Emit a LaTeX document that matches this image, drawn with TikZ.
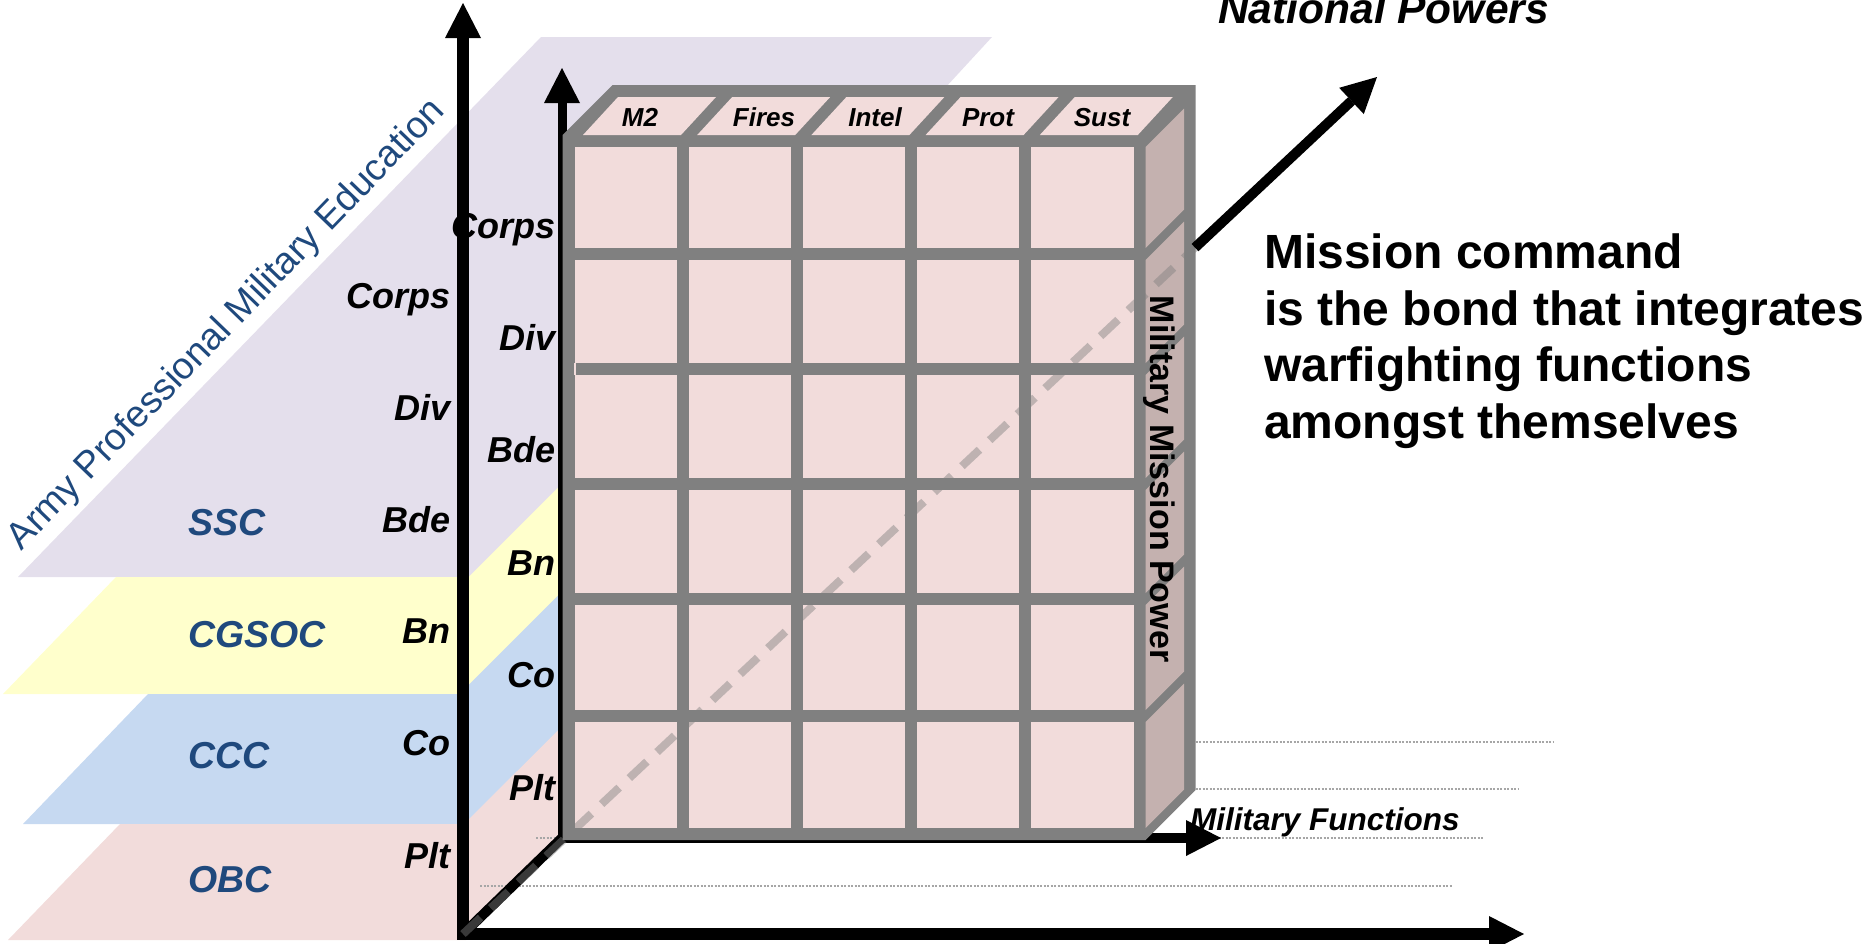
\documentclass[tikz,border=0pt]{standalone}
\usepackage{fontspec}
\setmainfont{Liberation Sans}
\usetikzlibrary{arrows.meta}
\definecolor{lav}{HTML}{E4DFEC}
\definecolor{lyel}{HTML}{FFFFCC}
\definecolor{lblue}{HTML}{C6D9F1}
\definecolor{lpink}{HTML}{F2DCDB}
\definecolor{sidepink}{HTML}{C4B1AF}
\definecolor{framegray}{HTML}{808080}
\definecolor{navy}{HTML}{1F497D}
\definecolor{dotgray}{HTML}{A6A6A6}
\begin{document}
\begin{tikzpicture}[x=1pt,y=-1pt,
  bigtip/.style={-{Triangle[length=35pt,width=36pt,line width=0pt]}},
  blackline/.style={draw=black,line join=miter},
  dotline/.style={draw=dotgray,line width=1.3pt,dash pattern=on 2pt off 1.5pt},
  depthdash/.style={draw=framegray,draw opacity=0.45,line width=8pt,dash pattern=on 24pt off 14pt},
  lvl/.style={font=\fontsize{36pt}{40pt}\selectfont\bfseries\itshape,inner sep=0pt},
  course/.style={font=\fontsize{37.5pt}{42pt}\selectfont\bfseries\itshape,inner sep=0pt,text=navy},
  head/.style={font=\fontsize{26pt}{30pt}\selectfont\bfseries\itshape,inner sep=0pt},
  bigtext/.style={font=\fontsize{48pt}{56pt}\selectfont\bfseries,inner sep=0pt,anchor=base west}]
\useasboundingbox (0,0) rectangle (1876,943);
\clip (0,0) rectangle (1876,943);

% ---------- education planes ----------
\fill[lav] (541,37) -- (992,37) -- (934,100) -- (620,100) -- (620,577) -- (18,577) -- cycle;
\fill[lyel] (3,694) -- (116,577) -- (464,577) -- (464,581.5) -- (580,465.5) -- (580,694) -- cycle;
\fill[lblue] (23,824) -- (148,694) -- (464,694) -- (464,689.5) -- (580,573.5) -- (580,824) -- cycle;
\fill[lpink] (8,940) -- (120,824) -- (464,824) -- (580,708.5) -- (580,821) -- (466,935) -- (466,940) -- cycle;

% ---------- faint floor lines ----------
\draw[dotline] (1150,742) -- (1553,742);
\draw[dotline] (1150,789) -- (1519,789);
\draw[dotline] (536,838) -- (1483,838);
\draw[dotline] (480,886) -- (1453,886);

% ---------- axes ----------
\coordinate (O) at (463,934);
\coordinate (Vtop) at (463,3);
\coordinate (Hend) at (1524,934);
\coordinate (S0) at (562,838);
\coordinate (Stop) at (562,68);
\coordinate (MF) at (1221,838);
\coordinate (P) at (1195,247.6);
\coordinate (T) at (1377,77);

\draw[blackline,line width=11.5pt,{Triangle[length=35pt,width=36pt,line width=0pt]}-{Triangle[length=35pt,width=36pt,line width=0pt]}] (Hend) -- (O) -- (Vtop);
\draw[blackline,line width=10pt] (O) -- (S0);
\draw[blackline,line width=9pt,bigtip] (S0) -- (Stop);
\draw[blackline,line width=10pt,bigtip] (S0) -- (MF);

% ---------- cube ----------
\fill[framegray] (562.5,840) -- (562.5,135) -- (612.5,85) -- (1195.5,85) -- (1195.5,790) -- (1145.5,840) -- cycle;
\foreach \i in {0,...,4} {
  \foreach \t/\b in {147/248,260/363,375/478,490/593,605/710,722/828} {
    \fill[lpink] ({574.5+114.2*\i},\t) rectangle ({676.7+114.2*\i},\b);
  }
  \fill[lpink] ({583+114.2*\i},135) -- ({681+114.2*\i},135) -- ({716+114.2*\i},97) -- ({618+114.2*\i},97) -- cycle;
}
\fill[lpink] (573.5,363) rectangle (576,375);
\foreach \t/\b in {147/248,260/363,375/478,490/593,605/710,722/828} {
  \fill[sidepink] (1145.5,\t) -- (1184,{\t-38.5}) -- (1184,{\b-38.5}) -- (1145.5,\b) -- cycle;
}

% ---------- depth axis ----------
\draw[depthdash] (O) -- (P);
\draw[blackline,line width=10pt,bigtip] (P) -- (T);

% ---------- column headers ----------
\node[head,anchor=base] (hm2) at (640,126) {M2};
\node[head,anchor=base] (hfires) at (764,126) {Fires};
\node[head,anchor=base] (hintel) at (875,126) {Intel};
\node[head,anchor=base] (hprot) at (988,126) {Prot};
\node[head,anchor=base] (hsust) at (1102,126) {Sust};

% ---------- echelon labels ----------
\node[lvl,anchor=base east] (lcorps) at (451,308) {Corps};
\node[lvl,anchor=base east] (ldiv) at (451,420) {Div};
\node[lvl,anchor=base east] (lbde) at (451,532) {Bde};
\node[lvl,anchor=base east] (lbn) at (451,643) {Bn};
\node[lvl,anchor=base east] (lco) at (451,755) {Co};
\node[lvl,anchor=base east] (lplt) at (451,868) {Plt};

\node[lvl,anchor=base east] (scorps) at (556,238) {Corps};
\node[lvl,anchor=base east] (sdiv) at (556,350) {Div};
\node[lvl,anchor=base east] (sbde) at (556,462) {Bde};
\node[lvl,anchor=base east] (sbn) at (556,575) {Bn};
\node[lvl,anchor=base east] (sco) at (556,687) {Co};
\node[lvl,anchor=base east] (splt) at (556,800) {Plt};

% ---------- courses ----------
\node[course,anchor=base west] (ssc) at (188,535) {SSC};
\node[course,anchor=base west] (cgsoc) at (188,647) {CGSOC};
\node[course,anchor=base west] (ccc) at (188,768) {CCC};
\node[course,anchor=base west] (obc) at (188,892) {OBC};

\node[font=\fontsize{37.5pt}{42pt}\selectfont,text=navy,inner sep=0pt,rotate=46,anchor=base] (apme) at (234,332) {Army Professional Military Education};

% ---------- axis titles ----------
\node[font=\fontsize{42.5pt}{48pt}\selectfont\bfseries\itshape,inner sep=0pt,anchor=base west] (natpow) at (1218,23) {National Powers};
\node[font=\fontsize{31.5pt}{36pt}\selectfont\bfseries\itshape,inner sep=0pt,anchor=base west] (milfun) at (1190,830) {Military Functions};
\node[font=\fontsize{34pt}{38pt}\selectfont\bfseries,inner sep=0pt,rotate=-90,anchor=base] (mmp) at (1150,479) {Military Mission Power};

% ---------- statement ----------
\node[bigtext] (st1) at (1264,268) {Mission command};
\node[bigtext] (st2) at (1264,325) {is the bond that integrates};
\node[bigtext] (st3) at (1264,381) {warfighting functions};
\node[bigtext] (st4) at (1264,438) {amongst themselves};
\end{tikzpicture}
\end{document}
